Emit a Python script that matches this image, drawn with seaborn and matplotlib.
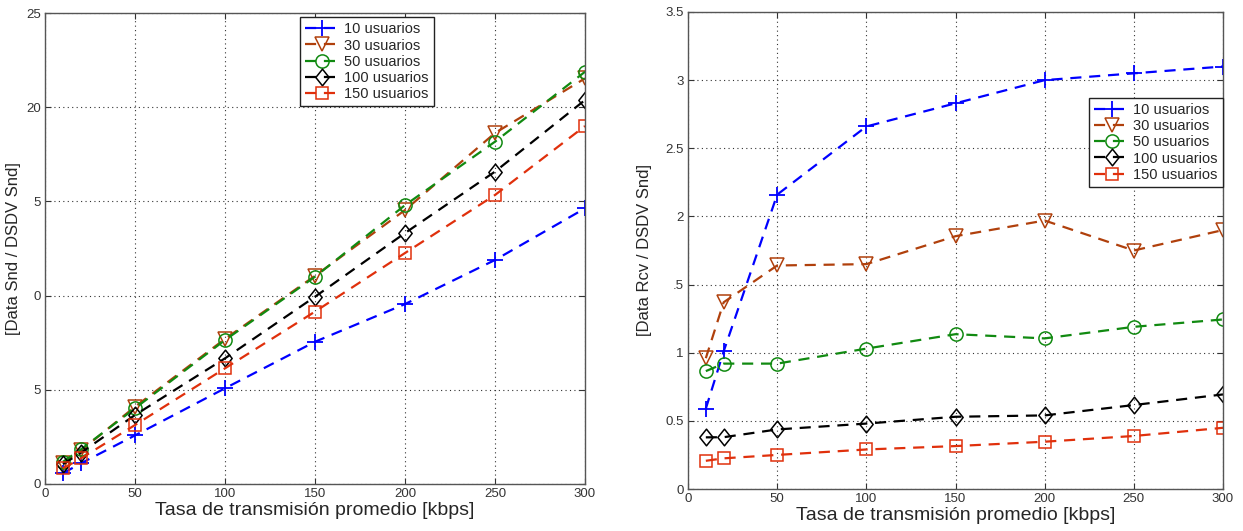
import matplotlib
matplotlib.use("Agg")
import matplotlib.pyplot as plt
from matplotlib.path import Path
import seaborn as sns
import pandas as pd

# Average transmission rate [kbps]
tasa = [10, 20, 50, 100, 150, 200, 250, 300]

series_names = ["10 usuarios", "30 usuarios", "50 usuarios", "100 usuarios", "150 usuarios"]

# Left panel: Data Snd / DSDV Snd
snd_10 = [0.57, 1.10, 2.58, 5.08, 7.55, 9.55, 11.89, 14.63]
snd_30 = [1.10, 1.78, 4.10, 7.70, 11.05, 14.54, 18.63, 21.53]
snd_50 = [1.18, 1.84, 4.02, 7.64, 11.00, 14.80, 18.17, 21.88]
snd_100 = [1.05, 1.66, 3.66, 6.67, 9.94, 13.32, 16.58, 20.38]
snd_150 = [0.83, 1.36, 3.13, 6.14, 9.15, 12.26, 15.34, 19.00]

# Right panel: Data Rcv / DSDV Snd
rcv_10 = [0.59, 1.01, 2.16, 2.66, 2.83, 3.00, 3.05, 3.10]
rcv_30 = [0.96, 1.37, 1.64, 1.65, 1.855, 1.97, 1.75, 1.90]
rcv_50 = [0.865, 0.92, 0.92, 1.03, 1.136, 1.105, 1.19, 1.244]
rcv_100 = [0.379, 0.38, 0.437, 0.48, 0.53, 0.54, 0.616, 0.694]
rcv_150 = [0.207, 0.225, 0.25, 0.29, 0.315, 0.347, 0.389, 0.449]

x_ticks = [0, 50, 100, 150, 200, 250, 300]
left_yticks = [0, 5, 10, 15, 20, 25]
left_yticklabels = ["0", "5", "0", "5", "20", "25"]
right_yticks = [0, 0.5, 1, 1.5, 2, 2.5, 3, 3.5]
right_yticklabels = ["0", "0.5", "1", ".5", "2", "2.5", "3", "3.5"]

xlabel = "Tasa de transmisión promedio [kbps]"
left_ylabel = "[Data Snd / DSDV Snd]"
right_ylabel = "[Data Rcv / DSDV Snd]"

# Slightly narrow diamond
diamond = Path([(0, 1), (0.8, 0), (0, -1), (-0.8, 0), (0, 1)],
               [Path.MOVETO, Path.LINETO, Path.LINETO, Path.LINETO, Path.CLOSEPOLY])

colors = ["#0000ff", "#b0400c", "#118a11", "#000000", "#e0300c"]
markers = ["+", "v", "o", diamond, "s"]
msizes = [12, 9.5, 9.5, 12, 8.5]

sns.set_theme(style="white")
plt.rcParams["font.family"] = ["Liberation Sans", "DejaVu Sans"]

fig = plt.figure(figsize=(12.43, 5.31), dpi=100)
W, H = 1243, 531
ax1 = fig.add_axes([45 / W, 1 - 484 / H, (585 - 45) / W, (484 - 13) / H])
ax2 = fig.add_axes([688 / W, 1 - 489 / H, (1223 - 688) / W, (489 - 12) / H])


def draw_panel(ax, values, yticks, yticklabels, ylabel, ymax, anchor, ylabelpad):
    for name, vals, c, m, ms in zip(series_names, values, colors, markers, msizes):
        df = pd.DataFrame({"tasa": tasa, "valor": vals})
        is_plus = isinstance(m, str) and m == "+"
        sns.lineplot(
            data=df, x="tasa", y="valor", ax=ax, color=c, label=name,
            linestyle=(0, (5, 3.5)), linewidth=1.6,
            marker=m, markersize=ms, markerfacecolor="none",
            markeredgecolor=c, markeredgewidth=1.3 if is_plus else 1.1,
        )
    ax.set_xlim(0, 300)
    ax.set_ylim(0, ymax)
    ax.set_xticks(x_ticks)
    ax.set_xticklabels([str(t) for t in x_ticks])
    ax.set_yticks(yticks)
    ax.set_yticklabels(yticklabels)
    ax.tick_params(axis="both", direction="in", length=4, width=0.8,
                   labelsize=9.5, colors="#333333", pad=3)
    ax.tick_params(axis="both", which="both", top=True, right=True,
                   bottom=True, left=True)
    ax.grid(True, linestyle=(0, (1, 3)), color="#333333", linewidth=0.8)
    for sp in ax.spines.values():
        sp.set_color("#555555")
        sp.set_linewidth(1.0)
    ax.set_xlabel(xlabel, fontsize=14, labelpad=1)
    ax.set_ylabel(ylabel, fontsize=12, labelpad=ylabelpad)
    leg = ax.legend(loc=anchor[0], bbox_to_anchor=anchor[1], fontsize=10.5,
                    frameon=True, fancybox=False,
                    edgecolor="#222222", framealpha=1, handlelength=2.4,
                    handletextpad=0.3, borderpad=0.35, labelspacing=0.15,
                    numpoints=1, borderaxespad=0.0)
    leg.get_frame().set_linewidth(1.0)
    return leg


draw_panel(ax1, [snd_10, snd_30, snd_50, snd_100, snd_150],
           left_yticks, left_yticklabels, left_ylabel, 25,
           ("upper left", (0.472, 0.991)), 4)
draw_panel(ax2, [rcv_10, rcv_30, rcv_50, rcv_100, rcv_150],
           right_yticks, right_yticklabels, right_ylabel, 3.5,
           ("upper right", (1.0, 0.82)), 10)

fig.savefig("out.png", dpi=100, facecolor="white")
